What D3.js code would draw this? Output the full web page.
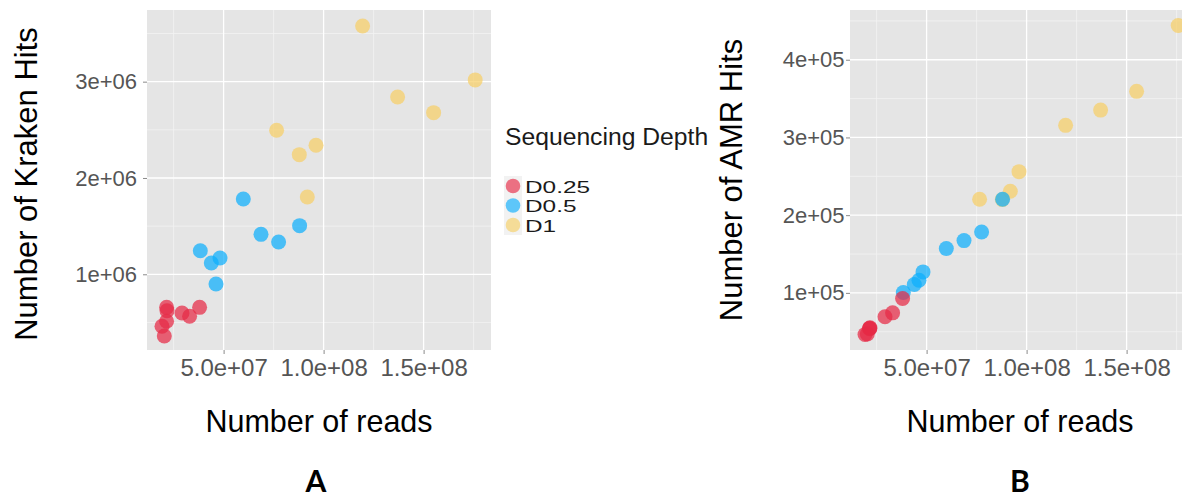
<!DOCTYPE html>
<html>
<head>
<meta charset="utf-8">
<script src="https://cdn.jsdelivr.net/npm/d3@7"></script>
<style>
  html, body { margin: 0; padding: 0; background: #ffffff; }
  svg { display: block; }
</style>
</head>
<body>
<svg id="chart" width="1182" height="498"></svg>
<script>
// Sequencing depth groups
const depthLevels = ["D0.25", "D0.5", "D1"];
const depthColors = ["#E62A45", "#0DAEFC", "#F6CF66"];

// Per-sample read counts and hit counts for each depth group
const readsD025  = [2.15e7, 2.17e7, 3.80e7, 2.92e7, 3.30e7, 2.15e7, 1.92e7, 2.035e7];
const krakenD025 = [657e3, 622e3, 657e3, 598e3, 564e3, 512e3, 460e3, 359e3];
const amrD025    = [54.5e3, 55e3, 92.8e3, 69.2e3, 74.3e3, 54e3, 46.5e3, 47e3];

const readsD05   = [5.985e7, 8.80e7, 6.87e7, 7.75e7, 3.835e7, 4.82e7, 4.385e7, 4.62e7];
const krakenD05  = [1.782e6, 1.505e6, 1.415e6, 1.335e6, 1.245e6, 1.169e6, 1.117e6, 0.899e6];
const amrD05     = [157e3, 220.4e3, 167.3e3, 178.4e3, 100.5e3, 127e3, 110.8e3, 116.3e3];

const readsD1    = [1.195e8, 1.758e8, 1.37e8, 1.55e8, 7.65e7, 9.62e7, 8.785e7, 9.185e7];
const krakenD1   = [3.578e6, 3.018e6, 2.841e6, 2.678e6, 2.495e6, 2.34e6, 2.242e6, 1.803e6];
const amrD1      = [315.6e3, 444.1e3, 335.2e3, 359.3e3, 220.4e3, 256e3, 220e3, 230.7e3];

// Axis ticks
const xTickValues  = [5e7, 1e8, 1.5e8];
const xTickLabels  = ["5.0e+07", "1.0e+08", "1.5e+08"];
const xMinorValues = [2.5e7, 7.5e7, 1.25e8, 1.75e8];

const krakenTickValues  = [1e6, 2e6, 3e6];
const krakenTickLabels  = ["1e+06", "2e+06", "3e+06"];
const krakenMinorValues = [0.5e6, 1.5e6, 2.5e6, 3.5e6];

const amrTickValues  = [1e5, 2e5, 3e5, 4e5];
const amrTickLabels  = ["1e+05", "2e+05", "3e+05", "4e+05"];
const amrMinorValues = [0.5e5, 1.5e5, 2.5e5, 3.5e5, 4.5e5];

// Tidy rows; drawn D1 first so the shallower depths sit on top
const groups = [
  { depth: "D1",    reads: readsD1,   kraken: krakenD1,   amr: amrD1 },
  { depth: "D0.5",  reads: readsD05,  kraken: krakenD05,  amr: amrD05 },
  { depth: "D0.25", reads: readsD025, kraken: krakenD025, amr: amrD025 }
];
const rows = groups.flatMap(g => g.reads.map((r, i) => ({
  depth: g.depth, reads: r, kraken: g.kraken[i], amr: g.amr[i]
})));

const color = d3.scaleOrdinal().domain(depthLevels).range(depthColors);

const FONT = "'Liberation Sans', Arial, Helvetica, sans-serif";
const svg = d3.select("#chart");
svg.append("rect").attr("width", 1182).attr("height", 498).attr("fill", "#ffffff");

const xDomain = [1.17e7, 1.837e8];

function drawPanel(cfg) {
  const g = svg.append("g");
  const x = d3.scaleLinear().domain(xDomain).range([cfg.left, cfg.left + cfg.width]);
  const y = d3.scaleLinear().domain(cfg.yDomain).range([cfg.top + cfg.height, cfg.top]);

  // panel background
  g.append("rect")
    .attr("x", cfg.left).attr("y", cfg.top)
    .attr("width", cfg.width).attr("height", cfg.height)
    .attr("fill", "#e5e5e5");

  // minor grid
  g.selectAll(".vminor").data(xMinorValues).join("line")
    .attr("x1", d => x(d)).attr("x2", d => x(d))
    .attr("y1", cfg.top).attr("y2", cfg.top + cfg.height)
    .attr("stroke", "#f2f2f2").attr("stroke-width", 0.8);
  g.selectAll(".hminor").data(cfg.yMinor).join("line")
    .attr("x1", cfg.left).attr("x2", cfg.left + cfg.width)
    .attr("y1", d => y(d)).attr("y2", d => y(d))
    .attr("stroke", "#f2f2f2").attr("stroke-width", 0.8);

  // major grid
  g.selectAll(".vmajor").data(xTickValues).join("line")
    .attr("x1", d => x(d)).attr("x2", d => x(d))
    .attr("y1", cfg.top).attr("y2", cfg.top + cfg.height)
    .attr("stroke", "#ffffff").attr("stroke-width", 1.3);
  g.selectAll(".hmajor").data(cfg.yTicks).join("line")
    .attr("x1", cfg.left).attr("x2", cfg.left + cfg.width)
    .attr("y1", d => y(d)).attr("y2", d => y(d))
    .attr("stroke", "#ffffff").attr("stroke-width", 1.3);

  // x axis
  const xAxis = d3.axisBottom(x)
    .tickValues(xTickValues)
    .tickFormat((d, i) => xTickLabels[i])
    .tickSize(4).tickPadding(5);
  const gx = g.append("g")
    .attr("transform", `translate(0,${cfg.top + cfg.height})`)
    .call(xAxis);
  gx.select(".domain").remove();
  gx.selectAll(".tick line").attr("stroke", "#8a8a8a");
  gx.selectAll(".tick text")
    .attr("fill", "#555555")
    .style("font-family", FONT).style("font-size", "24px");

  // y axis
  const yAxis = d3.axisLeft(y)
    .tickValues(cfg.yTicks)
    .tickFormat((d, i) => cfg.yTickLabels[i])
    .tickSize(4).tickPadding(cfg.yPad);
  const gy = g.append("g")
    .attr("transform", `translate(${cfg.left},0)`)
    .call(yAxis);
  gy.select(".domain").remove();
  gy.selectAll(".tick line").attr("stroke", "#8a8a8a");
  gy.selectAll(".tick text")
    .attr("fill", "#555555")
    .style("font-family", FONT).style("font-size", "22px");

  // points
  g.selectAll(".pt").data(rows).join("circle")
    .attr("cx", d => x(d.reads))
    .attr("cy", d => y(d[cfg.field]))
    .attr("r", 7.5)
    .attr("fill", d => color(d.depth))
    .attr("fill-opacity", 0.72);

  // axis titles
  g.append("text")
    .attr("x", cfg.left + cfg.width / 2 - (cfg.xTitleShift || 0))
    .attr("y", 432)
    .attr("text-anchor", "middle")
    .style("font-family", FONT).style("font-size", "30.5px")
    .attr("fill", "#000000")
    .text("Number of reads");

  g.append("text")
    .attr("transform", `translate(${cfg.yTitleX},${cfg.yTitleY}) rotate(-90)`)
    .attr("text-anchor", "middle")
    .style("font-family", FONT).style("font-size", "31px")
    .attr("fill", "#000000")
    .text(cfg.yTitle);

  // panel letter
  g.append("text")
    .attr("x", cfg.letterX).attr("y", 491.5)
    .attr("text-anchor", "middle")
    .style("font-family", "Lato, 'Open Sans', sans-serif")
    .style("font-size", "30px").style("font-weight", "700")
    .attr("fill", "#000000")
    .text(cfg.letter);
}

drawPanel({
  left: 147, top: 10, width: 344, height: 340,
  field: "kraken",
  yDomain: [0.214e6, 3.744e6],
  yTicks: krakenTickValues, yTickLabels: krakenTickLabels, yMinor: krakenMinorValues,
  yPad: 6,
  yTitle: "Number of Kraken Hits", yTitleX: 37, yTitleY: 184,
  letter: "A", letterX: 316
});

drawPanel({
  left: 850, top: 10, width: 344, height: 340,
  field: "amr",
  yDomain: [0.265e5, 4.64e5],
  yTicks: amrTickValues, yTickLabels: amrTickLabels, yMinor: amrMinorValues,
  yPad: 1.5,
  xTitleShift: 2,
  yTitle: "Number of AMR Hits", yTitleX: 742, yTitleY: 180,
  letter: "B", letterX: 1020
});

// legend for depth groups
const legend = svg.append("g");
legend.append("text")
  .attr("x", 505).attr("y", 145)
  .style("font-family", FONT).style("font-size", "24.7px")
  .attr("fill", "#1a1a1a")
  .text("Sequencing Depth");

const keyY = d3.scalePoint().domain(depthLevels).range([186, 225]);
legend.append("rect")
  .attr("x", 504).attr("y", 176).attr("width", 18).attr("height", 59)
  .attr("fill", "#f2f2f2");
legend.selectAll(".key").data(depthLevels).join("circle")
  .attr("cx", 513).attr("cy", d => keyY(d))
  .attr("r", 7.3)
  .attr("fill", d => color(d)).attr("fill-opacity", 0.65);
legend.selectAll(".lab").data(depthLevels).join("text")
  .attr("transform", d => `translate(525,${keyY(d) + 6.5}) scale(1.25,0.88)`)
  .style("font-family", FONT).style("font-size", "19.5px")
  .attr("fill", "#1a1a1a")
  .text(d => d);
</script>
</body>
</html>
